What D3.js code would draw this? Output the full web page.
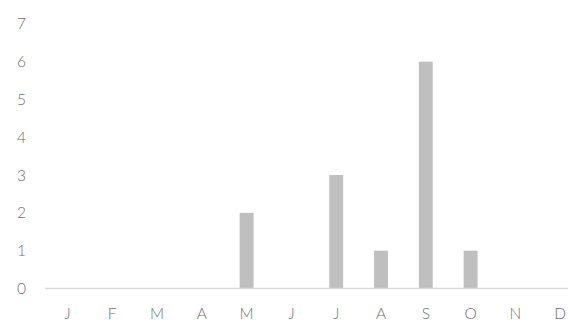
<!DOCTYPE html>
<html><head><meta charset="utf-8">
<script src="https://cdn.jsdelivr.net/npm/d3@7"></script>
<style>body{margin:0;background:#fff}svg{display:block}text{font-family:Lato,"Open Sans",sans-serif;font-weight:300}</style>
</head><body><svg id="c" width="568" height="323"></svg>
<script>
const months = ["J","F","M","A","M","J","J","A","S","O","N","D"];
const values = [0,0,0,0,2,0,3,1,6,1,0,0];
const yTicks = [0,1,2,3,4,5,6,7];

const svg = d3.select("#c");
const x = d3.scaleBand().domain(d3.range(months.length)).range([45, 582.6]).paddingInner(0.69).paddingOuter(0.345);
const y = d3.scaleLinear().domain([0,7]).range([288.5, 23.8]);

svg.append("g").selectAll("rect").data(values).join("rect")
  .attr("x",(d,i)=>x(i)).attr("width",x.bandwidth())
  .attr("y",d=>y(d)).attr("height",d=>y(0)-y(d))
  .attr("fill","#bfbfbf");

svg.append("line").attr("x1",45).attr("x2",568).attr("y1",y(0)).attr("y2",y(0))
  .attr("stroke","#d9d9d9").attr("stroke-width",1.3);

svg.append("g").selectAll("text").data(yTicks).join("text")
  .attr("x",26).attr("y",d=>y(d)).attr("dy","0.36em").attr("text-anchor","end")
  .attr("font-size",15.5).attr("fill","#6e6e6e").text(d=>d);

svg.append("g").selectAll("text").data(months).join("text")
  .attr("x",(d,i)=>x(i)+x.bandwidth()/2).attr("y",313.5).attr("dy","0.36em").attr("text-anchor","middle")
  .attr("font-size",15.5).attr("fill","#6e6e6e").text(d=>d);
</script></body></html>
